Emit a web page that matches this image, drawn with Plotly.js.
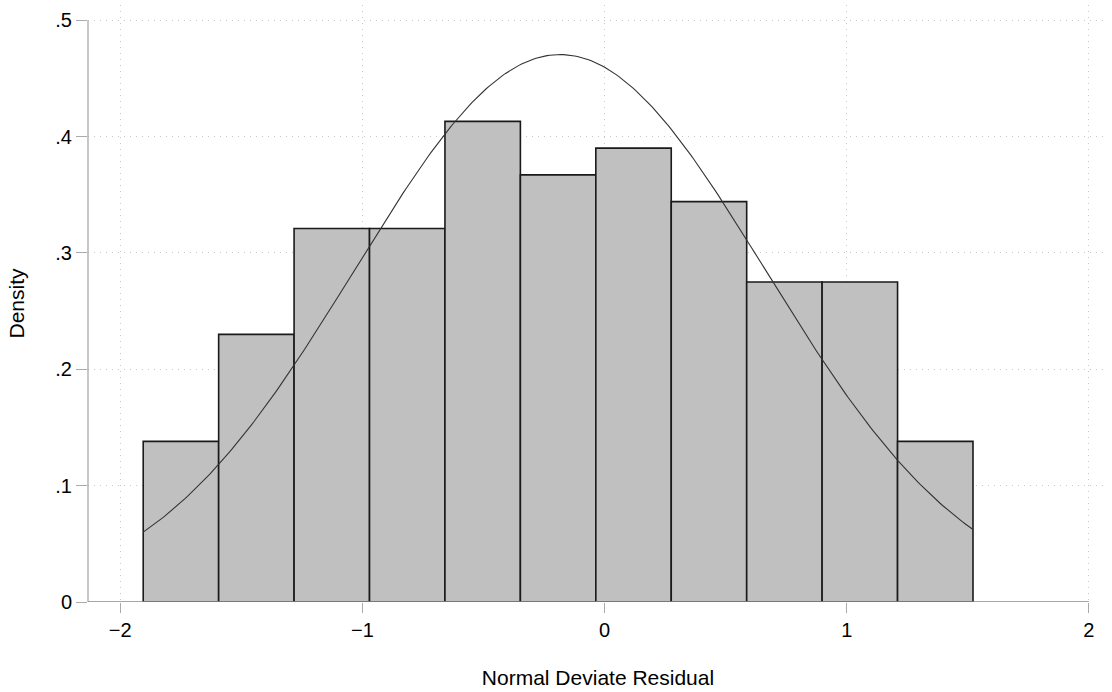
<!DOCTYPE html>
<html>
<head>
<meta charset="utf-8">
<script src="https://cdn.plot.ly/plotly-3.0.1.min.js"></script>
<style>html,body{margin:0;padding:0;background:#fff;}#chart{width:1112px;height:692px;}</style>
</head>
<body>
<div id="chart"></div>
<script>
// Histogram of residuals (density scale)
const binStart = -1.905;
const binWidth = 0.3115;
const densities = [0.138, 0.230, 0.321, 0.321, 0.413, 0.367, 0.390, 0.344, 0.275, 0.275, 0.138];

// Fitted normal density overlay parameters
const curveMean = -0.184;
const curveSd = 0.848;

const xTickVals = [-2, -1, 0, 1, 2];
const xTickText = ["\u22122", "\u22121", "0", "1", "2"];
const yTickVals = [0, 0.1, 0.2, 0.3, 0.4, 0.5];
const yTickText = ["0", ".1", ".2", ".3", ".4", ".5"];

const xTitle = "Normal Deviate Residual";
const yTitle = "Density";

const centers = densities.map((_, i) => binStart + binWidth * (i + 0.5));
const binEnd = binStart + binWidth * densities.length;

const cx = [], cy = [];
const nPts = 300;
for (let i = 0; i <= nPts; i++) {
  const x = binStart + (binEnd - binStart) * i / nPts;
  const z = (x - curveMean) / curveSd;
  cx.push(x);
  cy.push(Math.exp(-0.5 * z * z) / (curveSd * Math.sqrt(2 * Math.PI)));
}

const traces = [
  {
    type: 'bar', x: centers, y: densities, width: binWidth,
    marker: {color: '#c0c0c0', line: {color: '#1a1a1a', width: 1.6}},
    hoverinfo: 'x+y', showlegend: false
  },
  {
    type: 'scatter', mode: 'lines', x: cx, y: cy,
    line: {color: '#333333', width: 1.1}, showlegend: false
  }
];

const fam = '"Liberation Sans", Arial, Helvetica, sans-serif';
const tickFont = {family: fam, size: 20, color: '#000'};
const titleFont = {family: fam, size: 21, color: '#000'};

const layout = {
  width: 1112, height: 692,
  margin: {l: 88, r: 4, t: 5, b: 90},
  paper_bgcolor: '#fff', plot_bgcolor: '#fff',
  font: tickFont,
  bargap: 0,
  showlegend: false,
  xaxis: {
    range: [-2.133, 2.079],
    tickvals: xTickVals, ticktext: xTickText,
    ticks: 'outside', ticklen: 10, tickcolor: '#aaaaaa', tickwidth: 1,
    showgrid: true, gridcolor: '#c8c8c8', gridwidth: 1, griddash: '1px,5px',
    zeroline: false, showline: false,
    title: {text: xTitle, font: titleFont, standoff: 30},
    tickfont: tickFont
  },
  yaxis: {
    range: [0, 0.513],
    tickvals: yTickVals, ticktext: yTickText,
    ticks: 'outside', ticklen: 11, tickcolor: '#aaaaaa', tickwidth: 1,
    showgrid: true, gridcolor: '#c8c8c8', gridwidth: 1, griddash: '1px,5px',
    zeroline: false, showline: false,
    title: {text: yTitle, font: titleFont, standoff: 24},
    tickfont: tickFont
  },
  shapes: [
    {type: 'line', xref: 'paper', yref: 'y', x0: 0, x1: 0, y0: 0, y1: 0.5,
     line: {color: '#aaaaaa', width: 1.3}},
    {type: 'line', xref: 'paper', yref: 'y', x0: 0, x1: (2 + 2.133) / (2.079 + 2.133), y0: 0, y1: 0,
     line: {color: '#888888', width: 1.6}, layer: 'above'}
  ]
};

Plotly.newPlot('chart', traces, layout, {displayModeBar: false, staticPlot: true});
</script>
</body>
</html>
